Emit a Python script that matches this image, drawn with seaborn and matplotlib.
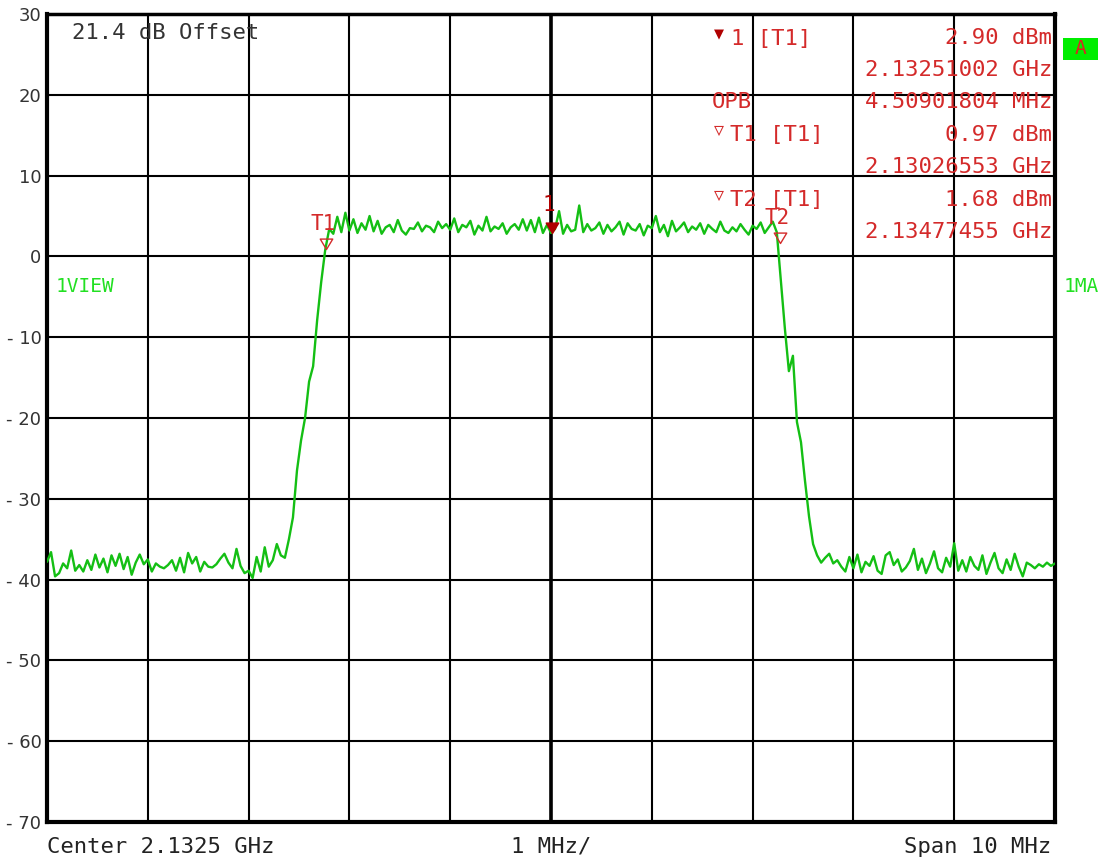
import numpy as np
import pandas as pd
import matplotlib
matplotlib.use("Agg")
import matplotlib.pyplot as plt
import seaborn as sns
from matplotlib.path import Path
from matplotlib.patches import Rectangle

# ---- sweep settings -------------------------------------------------------
center_ghz = 2.1325
span_mhz = 10.0
offset_db = 21.4
y_ticks = [30, 20, 10, 0, -10, -20, -30, -40, -50, -60, -70]

# ---- trace (dBm), 251 sweep points across the span -----------------------
levels_left_floor = [
    -37.8, -36.6, -39.6, -39.2, -38.0, -38.6, -36.4, -38.9, -38.2, -39.0,
    -37.6, -38.8, -36.9, -38.5, -37.4, -39.1, -37.0, -38.3, -36.8, -38.7,
    -37.2, -39.4, -37.9, -36.9, -38.1, -37.5, -39.0, -38.0, -38.4, -38.6,
    -38.2, -37.6, -38.9, -37.3, -39.1, -36.7, -38.0, -37.2, -39.0, -37.8,
    -38.4, -38.5, -38.1, -37.4, -36.8, -37.9, -38.6, -36.2, -38.3, -39.2,
    -38.9, -39.8, -37.2, -39.0, -36.0, -38.4, -37.6,
]
levels_left_edge = [
    -35.6, -37.0, -37.3, -35.0, -32.3, -26.5, -22.8, -20.0, -15.5, -13.6,
    -7.9, -3.2, 0.8, 3.4,
]
levels_channel = [
    2.8, 4.9, 3.0, 5.4, 3.2, 4.6, 2.9, 4.1, 3.3, 5.0,
    3.1, 4.4, 2.8, 3.6, 3.9, 3.0, 4.5, 3.2, 2.7, 3.5,
    3.4, 4.2, 3.1, 3.8, 3.6, 3.0, 4.3, 3.5, 4.0, 3.3,
    4.7, 3.0, 3.9, 3.6, 4.4, 2.7, 3.8, 3.2, 4.9, 3.1,
    3.7, 3.4, 4.1, 2.8, 3.6, 4.0, 3.3, 4.6, 3.2, 4.5,
    3.0, 4.8, 2.9, 3.9, 2.9, 3.4, 5.6, 2.8, 3.9, 3.1,
    3.3, 6.3, 3.0, 4.0, 3.2, 3.5, 4.2, 2.8, 3.9, 3.1,
    3.6, 4.3, 2.7, 4.1, 3.4, 3.2, 4.0, 2.6, 3.8, 3.5,
    5.0, 3.0, 3.9, 2.5, 4.4, 3.1, 3.6, 4.2, 3.0, 3.7,
    3.3, 4.1, 2.8, 3.9, 3.4, 3.0, 4.3, 3.2, 2.9, 3.6,
    3.1, 4.0, 3.3, 2.7, 3.8, 3.4, 4.2, 2.9, 3.6, 4.3,
]
levels_right_edge = [
    3.0, -3.0, -8.9, -14.2, -12.3, -20.5, -23.0, -27.8, -32.2, -35.6,
    -37.0, -37.9,
]
levels_right_floor = [
    -37.3, -36.8, -38.0, -37.6, -38.4, -39.0, -37.2, -38.6, -36.9, -39.1,
    -37.8, -38.3, -37.1, -38.9, -39.3, -37.0, -36.6, -38.2, -37.5, -39.0,
    -38.5, -37.7, -36.2, -38.8, -37.4, -39.2, -38.0, -36.5, -38.6, -39.1,
    -37.3, -38.4, -35.5, -38.9, -37.6, -39.0, -37.2, -38.3, -38.8, -37.0,
    -39.3, -37.9, -36.7, -38.6, -39.2, -37.5, -38.8, -36.8, -38.4, -39.6,
    -37.9, -38.2, -38.6, -38.1, -38.4, -37.9, -38.3, -38.0,
]
levels_dbm = (levels_left_floor + levels_left_edge + levels_channel
              + levels_right_edge + levels_right_floor)

# ---- markers -------------------------------------------------------------
marker_names = ["1", "T1", "T2"]
marker_freq_ghz = [2.13251002, 2.13026553, 2.13477455]
marker_level_dbm = [2.90, 0.97, 1.68]
occupied_bw_mhz = 4.50901804

# sweep frequency axis
freq_ghz = center_ghz + np.linspace(-span_mhz / 2, span_mhz / 2, len(levels_dbm)) / 1000.0
trace = pd.DataFrame({"freq": freq_ghz, "level": levels_dbm})

W, H = 1106, 860
sns.set_theme(style="white")
plt.rcParams["font.family"] = ["DejaVu Sans"]

fig = plt.figure(figsize=(W / 100, H / 100), dpi=100, facecolor="white")
ax = fig.add_axes([47 / W, 1 - 822 / H, (1055 - 47) / W, (822 - 14) / H])
ax.set_facecolor("white")

RED = "#d42a2a"
DARK_RED = "#b00000"
TRACE_GREEN = "#14bf14"
TEXT_GREEN = "#22e022"
MONO = ["DejaVu Sans Mono", "DejaVu Sans"]

# graticule
x_lo = center_ghz - span_mhz / 2000
x_hi = center_ghz + span_mhz / 2000
grid_x = [center_ghz + k / 1000.0 for k in range(-5, 6)]
ax.set_xlim(x_lo, x_hi)
ax.set_ylim(y_ticks[-1], y_ticks[0])
ax.set_xticks(grid_x)
ax.set_yticks(y_ticks)
ax.grid(True, color="black", linewidth=1.5)
ax.axvline(center_ghz, color="black", linewidth=2.6, zorder=1)
ax.set_axisbelow(True)
for side in ["left", "right", "top", "bottom"]:
    ax.spines[side].set_visible(True)
    ax.spines[side].set_color("black")
    ax.spines[side].set_linewidth(3.0)
ax.spines["top"].set_linewidth(2.5)
ax.tick_params(axis="x", length=0, labelbottom=False)
ax.tick_params(axis="y", length=0, pad=4, labelsize=13, labelcolor="#333333")
ax.set_yticklabels([str(v).replace("-", "- ") if v < 0 else str(v) for v in y_ticks])

# trace
sns.lineplot(data=trace, x="freq", y="level", color=TRACE_GREEN, linewidth=1.7,
             sort=False, estimator=None, ax=ax, zorder=3)
ax.set_xlabel("")
ax.set_ylabel("")

# marker symbols: triangles whose tip sits on the measured point
tip_down = Path([(-0.6, 1.0), (0.6, 1.0), (0.0, 0.0), (-0.6, 1.0)],
                [Path.MOVETO, Path.LINETO, Path.LINETO, Path.CLOSEPOLY])
for name, f, lvl in zip(marker_names, marker_freq_ghz, marker_level_dbm):
    if name == "1":
        ax.plot([f], [lvl], marker=tip_down, markersize=15, color=DARK_RED,
                markeredgecolor=DARK_RED, linestyle="none", zorder=5)
        ax.annotate(name, (f, lvl), xytext=(-2, 20), textcoords="offset points",
                    ha="center", va="center", color=DARK_RED, fontsize=15,
                    family=MONO, zorder=6)
    else:
        ax.plot([f], [lvl], marker=tip_down, markersize=15, markerfacecolor="none",
                markeredgecolor=RED, markeredgewidth=1.0, linestyle="none", zorder=5)
        ax.annotate(name, (f, lvl), xytext=(-2, 18), textcoords="offset points",
                    ha="center", va="center", color=RED, fontsize=15,
                    family=MONO, zorder=6)


def px(x, y):
    return x / W, 1 - y / H


# marker readout block
val_x = 1052
readout = [
    (38, f"{marker_level_dbm[0]:.2f} dBm"),
    (70, f"{marker_freq_ghz[0]:.8f} GHz"),
    (102, f"{occupied_bw_mhz:.8f} MHz"),
    (135, f"{marker_level_dbm[1]:.2f} dBm"),
    (167, f"{marker_freq_ghz[1]:.8f} GHz"),
    (200, f"{marker_level_dbm[2]:.2f} dBm"),
    (232, f"{marker_freq_ghz[2]:.8f} GHz"),
]
for y, s in readout:
    fig.text(*px(val_x, y), s, ha="right", va="center", color=RED,
             fontsize=16, family=MONO, zorder=10)

fig.text(*px(714, 34), "\u25bc", ha="left", va="center", color=DARK_RED,
         fontsize=12, family=MONO)
fig.text(*px(731, 39), "1 [T1]", ha="left", va="center", color=RED,
         fontsize=16, family=MONO)
fig.text(*px(712, 102), "OPB", ha="left", va="center", color=RED,
         fontsize=16, family=MONO)
fig.text(*px(714, 130), "\u25bd", ha="left", va="center", color=RED,
         fontsize=12, family=MONO)
fig.text(*px(730, 135), "T1 [T1]", ha="left", va="center", color=RED,
         fontsize=16, family=MONO)
fig.text(*px(714, 195), "\u25bd", ha="left", va="center", color=RED,
         fontsize=12, family=MONO)
fig.text(*px(730, 200), "T2 [T1]", ha="left", va="center", color=RED,
         fontsize=16, family=MONO)

# settings annotations
fig.text(*px(72, 33), f"{offset_db:.1f} dB Offset", ha="left", va="center",
         color="#333333", fontsize=16, family=MONO)
fig.text(*px(56, 287), "1VIEW", ha="left", va="center", color=TEXT_GREEN,
         fontsize=14, family=MONO)
fig.text(*px(1064, 287), "1MA", ha="left", va="center", color=TEXT_GREEN,
         fontsize=14, family=MONO)
fig.patches.append(Rectangle(px(1063, 60), 35 / W, 22 / H, transform=fig.transFigure,
                             facecolor="#00ee00", edgecolor="none", figure=fig))
fig.text(*px(1081, 49), "A", ha="center", va="center", color="#dd2222",
         fontsize=14, family=MONO)

# frequency axis annotation
fig.text(*px(47, 847), f"Center {center_ghz} GHz", ha="left", va="center",
         color="#222222", fontsize=16, family=MONO)
fig.text(*px(551, 847), f"{int(span_mhz / 10)} MHz/", ha="center", va="center",
         color="#222222", fontsize=16, family=MONO)
fig.text(*px(1051, 847), f"Span {int(span_mhz)} MHz", ha="right", va="center",
         color="#222222", fontsize=16, family=MONO)

fig.savefig("out.png", dpi=100, facecolor="white")
